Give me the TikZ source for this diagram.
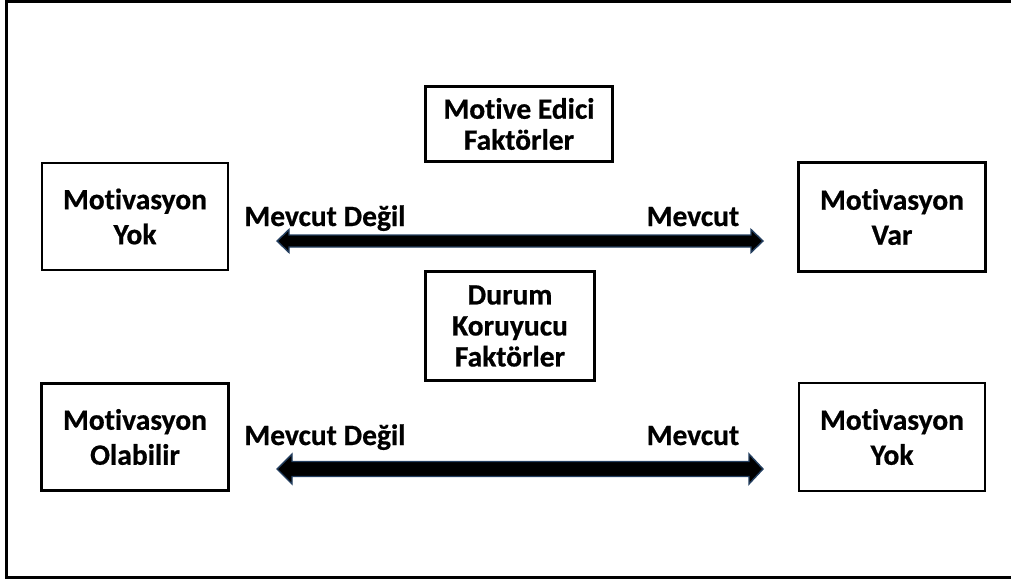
\documentclass[tikz,border=0pt]{standalone}
\usepackage{fontspec}
\setmainfont[RawFeature=-liga, BoldFeatures={FakeBold=0.6}]{Carlito}
\usetikzlibrary{calc}
\begin{document}
\begin{tikzpicture}[x=1pt,y=-1pt,
  box/.style={draw=black, line width=2.7pt, fill=white, inner sep=0pt,
    align=center, font=\bfseries\fontsize{29.5}{35}\selectfont},
  tightbox/.style={box, font=\bfseries\fontsize{29.5}{31}\selectfont},
  lbl/.style={anchor=base, inner sep=0pt, font=\bfseries\fontsize{29.5}{31}\selectfont},
  dblarrow/.style={fill=black, draw=arrowblue, line width=1.4pt, line join=miter}
]
\definecolor{arrowblue}{HTML}{243F60}
\useasboundingbox (0,0) rectangle (1011,582);

% outer frame (open on the right)
\draw[line width=3pt] (1011,1.5) -- (6,1.5) -- (6,577.5) -- (1011,577.5);

% boxes
\node[box, minimum width=186pt, minimum height=107pt] (noMot) at (135,216.5) {Motivasyon\\Yok};
\node[tightbox, minimum width=187pt, minimum height=74.5pt] (motive) at (519,124) {Motive Edici\\Faktörler};
\node[box, minimum width=186.5pt, minimum height=109.5pt] (yesMot) at (892,217) {Motivasyon\\Var};
\node[tightbox, minimum width=169pt, minimum height=108.5pt] (hygiene) at (510,326) {Durum\\Koruyucu\\Faktörler};
\node[box, minimum width=187pt, minimum height=107.5pt] (maybeMot) at (135,437) {Motivasyon\\Olabilir};
\node[box, minimum width=186pt, minimum height=108pt] (noMotB) at (892,437) {Motivasyon\\Yok};

% upper double arrow
\coordinate (ua) at (277,241);
\coordinate (ub) at (763,241);
\draw[dblarrow] (ua) -- ++(12,-11.5) -- ++(0,5.5) -- ($(ub)+(-12,-6)$) -- ++(0,-5.5) -- (ub)
  -- ++(-12,11.5) -- ++(0,-5.5) -- ($(ua)+(12,6)$) -- ++(0,5.5) -- cycle;
\node[lbl] (ul) at (325,226) {Mevcut Değil};
\node[lbl] (ur) at (693,226) {Mevcut};

% lower double arrow
\coordinate (la) at (277,469);
\coordinate (lb) at (763,469);
\draw[dblarrow] (la) -- ++(15,-15) -- ++(0,7.5) -- ($(lb)+(-14,-7.5)$) -- ++(0,-7.5) -- (lb)
  -- ++(-14,15) -- ++(0,-7.5) -- ($(la)+(15,7.5)$) -- ++(0,7.5) -- cycle;
\node[lbl] (ll) at (325,445) {Mevcut Değil};
\node[lbl] (lr) at (693,445) {Mevcut};
\end{tikzpicture}
\end{document}
